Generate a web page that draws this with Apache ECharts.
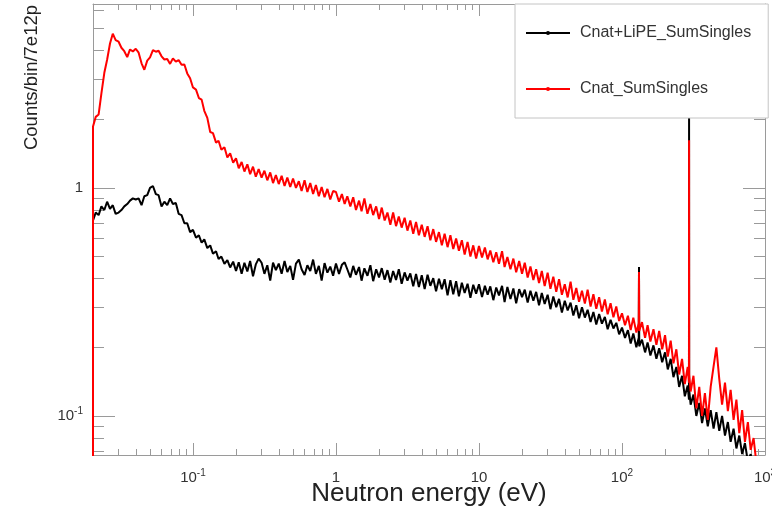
<!DOCTYPE html>
<html><head><meta charset="utf-8">
<script src="https://cdn.jsdelivr.net/npm/echarts@6/dist/echarts.min.js"></script>
<style>html,body{margin:0;padding:0;background:#fff}#c{width:772px;height:507px}</style>
</head><body><div id="c"></div>
<script>
// Neutron energy bin centres (eV)
const energies = [
  0.0200, 0.0200, 0.0209, 0.0219, 0.0229, 0.0240, 0.0251, 0.0263, 0.0275, 0.0288, 0.0302, 0.0316, 0.0331, 0.0347, 0.0363, 0.0380,
  0.0398, 0.0417, 0.0437, 0.0457, 0.0479, 0.0501, 0.0525, 0.0550, 0.0575, 0.0603, 0.0631, 0.0661, 0.0692, 0.0724, 0.0759, 0.0794,
  0.0832, 0.0871, 0.0912, 0.0955,
  0.100, 0.105, 0.110, 0.115, 0.120, 0.126, 0.132, 0.138, 0.145, 0.151, 0.158, 0.166, 0.174, 0.182, 0.191, 0.200, 0.209, 0.219,
  0.229, 0.240, 0.251, 0.263, 0.275, 0.288, 0.302, 0.316, 0.331, 0.347, 0.363, 0.380, 0.398, 0.417, 0.437, 0.457, 0.479, 0.501,
  0.525, 0.550, 0.575, 0.603, 0.631, 0.661, 0.692, 0.724, 0.759, 0.794, 0.832, 0.871, 0.912, 0.955,
  1.00, 1.05, 1.10, 1.15, 1.20, 1.26, 1.32, 1.38, 1.45, 1.51, 1.58, 1.66, 1.74, 1.82, 1.91, 2.00, 2.09, 2.19, 2.29, 2.40, 2.51,
  2.63, 2.75, 2.88, 3.02, 3.16, 3.31, 3.47, 3.63, 3.80, 3.98, 4.17, 4.37, 4.57, 4.79, 5.01, 5.25, 5.50, 5.75, 6.03, 6.31, 6.61,
  6.92, 7.24, 7.59, 7.94, 8.32, 8.71, 9.12, 9.55,
  10.0, 10.5, 11.0, 11.5, 12.0, 12.6, 13.2, 13.8, 14.5, 15.1, 15.8, 16.6, 17.4, 18.2, 19.1, 20.0, 20.9, 21.9, 22.9, 24.0, 25.1,
  26.3, 27.5, 28.8, 30.2, 31.6, 33.1, 34.7, 36.3, 38.0, 39.8, 41.7, 43.7, 45.7, 47.9, 50.1, 52.5, 55.0, 57.5, 60.3, 63.1, 66.1,
  69.2, 72.4, 75.9, 79.4, 83.2, 87.1, 91.2, 95.5,
  100, 105, 110, 115, 120, 126, 131, 131.5, 132, 138, 145, 151, 158, 166, 174, 182, 191, 200, 209, 219, 229, 240, 251, 263, 275,
  288, 294, 294.5, 295, 302, 316, 331, 347, 363, 380, 398, 417, 437, 457, 479, 501, 525, 550, 575, 603, 631, 661, 692, 724, 759,
  794, 832, 871, 912
];

// Cnat+LiPE_SumSingles (black)
const cnatLipe = [
  0.05, 0.72, 0.78, 0.76, 0.83, 0.80, 0.87, 0.81, 0.84, 0.77, 0.78,
  0.80, 0.83, 0.85, 0.88, 0.90, 0.89, 0.90, 0.84, 0.92, 0.93,
  1.00, 1.02, 0.94, 0.93, 0.83, 0.87, 0.84, 0.90, 0.85, 0.86,
  0.77, 0.76, 0.70, 0.70, 0.64,
  0.655, 0.605, 0.620, 0.575, 0.595, 0.545, 0.560, 0.515, 0.528, 0.488,
  0.500, 0.465, 0.482, 0.448, 0.475, 0.432, 0.472, 0.420, 0.470, 0.430,
  0.478, 0.410, 0.462, 0.490, 0.470, 0.420, 0.458, 0.392, 0.470, 0.436,
  0.466, 0.420, 0.478, 0.428, 0.455, 0.395, 0.466, 0.485, 0.440, 0.415,
  0.458, 0.432, 0.485, 0.420, 0.455, 0.392, 0.468, 0.425, 0.452, 0.412,
  0.466, 0.420, 0.460, 0.472, 0.440, 0.405, 0.455, 0.416, 0.450, 0.392,
  0.444, 0.412, 0.458, 0.390, 0.440, 0.405, 0.445, 0.396, 0.436, 0.385,
  0.432, 0.395, 0.440, 0.380, 0.426, 0.392, 0.422, 0.370, 0.420, 0.368,
  0.414, 0.360, 0.416, 0.372, 0.402, 0.352, 0.400, 0.360, 0.398, 0.338,
  0.394, 0.342, 0.390, 0.335, 0.384, 0.346, 0.380, 0.330, 0.376, 0.344,
  0.378, 0.332, 0.372, 0.340, 0.370, 0.322, 0.366, 0.338, 0.372, 0.316,
  0.368, 0.326, 0.362, 0.312, 0.360, 0.332, 0.358, 0.314, 0.354, 0.320,
  0.350, 0.306, 0.346, 0.310, 0.340, 0.294, 0.334, 0.300, 0.326, 0.284,
  0.320, 0.290, 0.314, 0.276, 0.306, 0.268, 0.300, 0.270, 0.292, 0.258,
  0.286, 0.252, 0.280, 0.254, 0.272, 0.240, 0.264, 0.242, 0.256, 0.228,
  0.244, 0.220, 0.238, 0.208, 0.230, 0.200, 0.220, 0.45, 0.202, 0.216, 0.190, 0.210, 0.184, 0.204, 0.178, 0.198, 0.172,
  0.190, 0.160, 0.178, 0.148, 0.164, 0.134, 0.150, 0.122, 0.136, 0.118, 2.03, 0.130, 0.112, 0.124, 0.100, 0.114, 0.093,
  0.108, 0.090, 0.106, 0.088, 0.104, 0.086, 0.100, 0.082, 0.094, 0.077, 0.088, 0.072, 0.082, 0.068, 0.076, 0.063,
  0.068, 0.057, 0.054, 0.050
];

// Cnat_SumSingles (red)
const cnat = [
  0.05, 1.86, 2.05, 2.10, 2.60, 3.20, 3.65, 4.30, 4.75, 4.45, 4.38,
  4.12, 3.98, 3.75, 4.05, 3.97, 4.08, 3.92, 3.52, 3.30, 3.62,
  3.74, 4.02, 3.96, 4.00, 3.78, 3.66, 3.68, 3.50, 3.70, 3.58,
  3.64, 3.47, 3.48, 3.18, 3.03,
  2.76, 2.70, 2.48, 2.44, 2.18, 2.03, 1.76, 1.74, 1.58, 1.61,
  1.47, 1.51, 1.36, 1.42, 1.29, 1.35, 1.22, 1.30, 1.18, 1.27,
  1.15, 1.24, 1.12, 1.21, 1.11, 1.19, 1.08, 1.17, 1.05, 1.14,
  1.04, 1.13, 1.02, 1.11, 1.01, 1.10, 1.00, 1.07, 0.97, 1.08,
  0.96, 1.05, 0.94, 1.03, 0.92, 1.01, 0.91, 0.99, 0.89, 0.97,
  0.96, 0.87, 0.94, 0.85, 0.92, 0.83, 0.91, 0.80, 0.88, 0.79,
  0.90, 0.77, 0.85, 0.76, 0.83, 0.73, 0.82, 0.72, 0.78, 0.69,
  0.78, 0.68, 0.75, 0.67, 0.74, 0.65, 0.72, 0.63, 0.71, 0.62,
  0.69, 0.61, 0.68, 0.59, 0.66, 0.58, 0.64, 0.56, 0.63, 0.55,
  0.62, 0.54, 0.60, 0.53, 0.59, 0.51, 0.58, 0.50, 0.56, 0.49,
  0.556, 0.495, 0.548, 0.486, 0.532, 0.472, 0.522, 0.465, 0.528, 0.450,
  0.498, 0.440, 0.490, 0.427, 0.478, 0.420, 0.470, 0.405, 0.452, 0.395,
  0.440, 0.383, 0.432, 0.371, 0.425, 0.361, 0.408, 0.350, 0.398, 0.340,
  0.378, 0.331, 0.388, 0.323, 0.364, 0.317, 0.354, 0.311, 0.358, 0.302,
  0.342, 0.295, 0.332, 0.287, 0.324, 0.279, 0.312, 0.271, 0.302, 0.261,
  0.282, 0.250, 0.275, 0.238, 0.270, 0.232, 0.255, 0.428, 0.236, 0.258, 0.220, 0.250, 0.212, 0.240, 0.205, 0.236, 0.196,
  0.226, 0.182, 0.214, 0.170, 0.196, 0.152, 0.178, 0.138, 0.164, 0.140, 1.62, 0.152, 0.128, 0.150, 0.108, 0.134, 0.100,
  0.126, 0.096, 0.134, 0.165, 0.200, 0.145, 0.112, 0.140, 0.105, 0.130, 0.096, 0.118, 0.084, 0.106, 0.077, 0.094,
  0.071, 0.080, 0.062, 0.050
];

const seriesNames = ['Cnat+LiPE_SumSingles', 'Cnat_SumSingles'];
const xTitle = 'Neutron energy (eV)';
const yTitle = 'Counts/bin/7e12p';

const FONT = '"Liberation Sans", Arial, Helvetica, sans-serif';
const FRAME = '#9a9a9a';

function powLabel(v) {
  const e = Math.round(Math.log10(v));
  const p = Math.pow(10, e);
  if (Math.abs(v - p) > 1e-6 * p) return '';
  if (e === 0) return '1';
  if (e === 1) return '10';
  return '10{s|' + e + '}';
}
const labelRich = { s: { fontSize: 10, lineHeight: 10, verticalAlign: 'top', color: '#333', fontFamily: FONT } };

function logAxis(extra, min, max, tickLen, minorLen) {
  return Object.assign({
    type: 'log', logBase: 10, min: min, max: max,
    axisLine: { show: true, lineStyle: { color: FRAME, width: 1 } },
    axisTick: { show: true, inside: true, length: tickLen, lineStyle: { color: FRAME } },
    minorTick: { show: true, splitNumber: 9, length: minorLen, lineStyle: { color: FRAME } },
    splitLine: { show: false },
    minorSplitLine: { show: false }
  }, extra);
}

const xMin = 0.02, xMax = 1000, yMin = 0.0674, yMax = 6.41;

const chart = echarts.init(document.getElementById('c'), null, { renderer: 'canvas' });
chart.setOption({
  animation: false,
  backgroundColor: '#fff',
  grid: { left: 93, right: 7, top: 4, bottom: 52, containLabel: false, outerBoundsMode: 'none' },
  xAxis: [
    logAxis({
      position: 'bottom',
      axisLabel: { formatter: powLabel, showMinLabel: false, color: '#333', fontSize: 15, lineHeight: 20, margin: 13, fontFamily: FONT, rich: labelRich },
      name: xTitle, nameLocation: 'middle', nameGap: 26, nameMoveOverlap: false,
      nameTextStyle: { fontSize: 26, color: '#222', fontFamily: FONT }
    }, xMin, xMax, 12, 6),
    logAxis({ position: 'top', axisLabel: { show: false } }, xMin, xMax, 12, 6)
  ],
  yAxis: [
    logAxis({
      position: 'left',
      axisLabel: { formatter: powLabel, showMinLabel: false, showMaxLabel: false, color: '#333', fontSize: 15, lineHeight: 20, margin: 10, fontFamily: FONT, rich: labelRich }
    }, yMin, yMax, 22, 11),
    logAxis({ position: 'right', axisLabel: { show: false } }, yMin, yMax, 22, 11)
  ],
  legend: {
    orient: 'vertical', left: 515, top: 4,
    padding: [21, 17, 21, 10], itemGap: 40,
    itemWidth: 44, itemHeight: 5,
    borderColor: '#c4c4c4', borderWidth: 1, backgroundColor: '#fff',
    textStyle: { fontSize: 16, color: '#333', fontFamily: FONT, padding: [0, 0, 0, 5] },
    data: seriesNames
  },
  graphic: [{
    type: 'text', x: 32, y: 5, rotation: Math.PI / 2, z: 10,
    style: { text: yTitle, fontSize: 18.5, fill: '#222', fontFamily: FONT, align: 'right', verticalAlign: 'middle' }
  }],
  series: [
    {
      name: seriesNames[0], type: 'line', xAxisIndex: 0, yAxisIndex: 0,
      data: energies.map((e, i) => [e, cnatLipe[i]]),
      symbol: 'circle', symbolSize: 3, showSymbol: false, clip: true,
      lineStyle: { color: '#000', width: 2 }, itemStyle: { color: '#000' }
    },
    {
      name: seriesNames[1], type: 'line', xAxisIndex: 0, yAxisIndex: 0,
      data: energies.map((e, i) => [e, cnat[i]]),
      symbol: 'circle', symbolSize: 3, showSymbol: false, clip: true,
      lineStyle: { color: '#ff0000', width: 2 }, itemStyle: { color: '#ff0000' }
    }
  ]
});
</script>
</body></html>
